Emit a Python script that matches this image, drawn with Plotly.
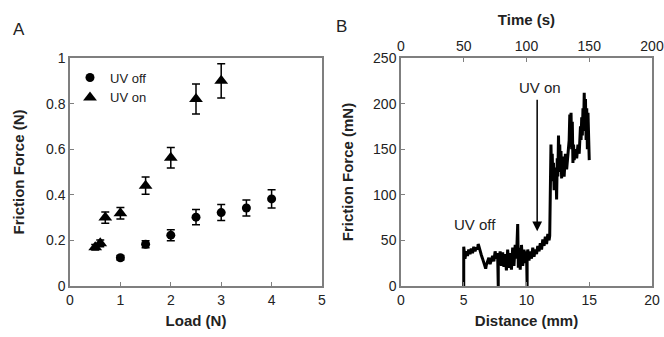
import plotly.graph_objects as go

# Panel A data
load_off = [1.0, 1.5, 2.0, 2.5, 3.0, 3.5, 4.0]
force_off = [0.124, 0.183, 0.223, 0.302, 0.322, 0.342, 0.382]
err_off = [0.010, 0.015, 0.024, 0.033, 0.035, 0.035, 0.040]

load_on = [0.5, 0.6, 0.7, 1.0, 1.5, 2.0, 2.5, 3.0]
force_on = [0.170, 0.187, 0.300, 0.319, 0.440, 0.563, 0.820, 0.900]
err_on = [0.012, 0.015, 0.025, 0.025, 0.038, 0.045, 0.066, 0.075]

# Panel B data
distance = [5.0, 5.0, 5.1, 5.2, 5.3, 5.4, 5.5, 5.6, 5.7, 5.8, 5.9, 6.0, 6.1, 6.15, 6.2,
            6.3, 6.4, 6.5, 6.6, 6.7, 6.75, 6.8, 6.9, 7.0, 7.1, 7.2, 7.3, 7.4, 7.5, 7.6,
            7.7, 7.75, 7.75, 7.8, 7.9, 8.0, 8.1, 8.2, 8.3, 8.4, 8.5, 8.6, 8.7, 8.8, 8.9,
            9.0, 9.1, 9.2, 9.3, 9.35, 9.4, 9.5, 9.6, 9.7, 9.8, 9.9, 10.0, 10.05, 10.05,
            10.1, 10.2, 10.3, 10.4, 10.5, 10.6, 10.7, 10.8, 10.9, 11.0, 11.1, 11.2, 11.3,
            11.4, 11.5, 11.6, 11.7, 11.8, 11.85, 11.9, 11.95, 12.0, 12.05, 12.1, 12.15,
            12.2, 12.25, 12.3, 12.35, 12.4, 12.45, 12.5, 12.55, 12.6, 12.65, 12.7, 12.75,
            12.8, 12.85, 12.9, 12.95, 13.0, 13.1, 13.2, 13.3, 13.4, 13.45, 13.5, 13.55,
            13.6, 13.65, 13.7, 13.75, 13.8, 13.9, 14.0, 14.1, 14.2, 14.3, 14.35, 14.4,
            14.45, 14.5, 14.55, 14.6, 14.65, 14.7, 14.75, 14.8, 14.85, 14.9, 14.95, 15.0]
friction = [0, 43, 30, 38, 33, 40, 35, 41, 36, 43, 38, 42, 40, 46, 44,
            38, 34, 30, 26, 22, 19, 23, 27, 31, 24, 29, 33, 27, 38, 30,
            36, 0, 32, 25, 38, 22, 37, 21, 35, 17, 40, 20, 36, 18, 42,
            22, 45, 30, 68, 20, 42, 18, 45, 22, 40, 25, 38, 0, 30,
            40, 28, 38, 30, 42, 32, 40, 35, 44, 38, 47, 40, 51,
            44, 54, 46, 57, 50, 55, 100, 155, 120, 145, 115, 135,
            105, 130, 110, 128, 95, 140, 120, 165, 130, 155, 125, 148,
            118, 142, 122, 140, 120, 145, 128, 150, 160, 188, 172, 190,
            150, 180, 135, 155, 138, 150, 140, 155, 145, 175, 160, 185,
            165, 195, 170, 212, 175, 205, 160, 195, 150, 190, 145, 138]

# Top axis (time) range endpoints
time_range = [0, 200]

axis_color = "#7f7f7f"
tick_font = dict(family="Liberation Sans, Arial", size=14, color="#222")
title_font = dict(family="Liberation Sans, Arial", size=15, color="#222")

fig = go.Figure()

fig.add_trace(go.Scatter(
    x=load_off, y=force_off, mode="markers", name="UV off",
    marker=dict(symbol="circle", size=9, color="black"),
    error_y=dict(type="data", array=err_off, color="black", thickness=1.5, width=4),
    xaxis="x", yaxis="y"))
fig.add_trace(go.Scatter(
    x=load_on, y=force_on, mode="markers", name="UV on",
    marker=dict(symbol="triangle-up", size=12, color="black"),
    error_y=dict(type="data", array=err_on, color="black", thickness=1.5, width=4),
    xaxis="x", yaxis="y"))

fig.add_trace(go.Scatter(
    x=distance, y=friction, mode="lines", showlegend=False,
    line=dict(color="black", width=3),
    xaxis="x2", yaxis="y2"))

# invisible trace so the top time axis is drawn
fig.add_trace(go.Scatter(
    x=time_range, y=[0, 0], mode="markers", showlegend=False, hoverinfo="skip",
    marker=dict(opacity=0), xaxis="x3", yaxis="y2"))

common = dict(showgrid=False, zeroline=False, showline=True, linecolor=axis_color,
              linewidth=1.5, ticks="inside", ticklen=4, tickcolor=axis_color,
              tickfont=tick_font, automargin=False, ticklabeloverflow="allow")

fig.update_layout(
    width=664, height=337,
    margin=dict(l=70, r=12, t=58, b=51),
    paper_bgcolor="white", plot_bgcolor="white",
    font=dict(family="Liberation Sans, Arial", color="#222"),
    xaxis=dict(domain=[0, 0.433], range=[0, 5], dtick=1, mirror=True, anchor="y",
               title=dict(text="<b>Load (N)</b>", font=title_font, standoff=9), **common),
    yaxis=dict(domain=[0, 1], range=[0, 1], dtick=0.2, mirror=True, anchor="x",
               title=dict(text="<b>Friction Force (N)</b>", font=title_font, standoff=18),
               **common),
    xaxis2=dict(domain=[0.5687, 1], range=[0, 20], dtick=5, mirror=True, anchor="y2",
                title=dict(text="<b>Distance (mm)</b>", font=title_font, standoff=9),
                **common),
    yaxis2=dict(domain=[0, 1], range=[0, 250], dtick=50, mirror=True, anchor="x2",
                title=dict(text="<b>Friction Force (mN)</b>", font=title_font, standoff=16),
                **common),
    xaxis3=dict(overlaying="x2", side="top", anchor="y2", range=time_range, dtick=50,
                title=dict(text="<b>Time (s)</b>", font=title_font, standoff=8),
                **common),
    legend=dict(x=0.0, y=0.98, xanchor="left", yanchor="top", bgcolor="rgba(0,0,0,0)",
                font=dict(family="Liberation Sans, Arial", size=13, color="#222"),
                itemwidth=30, tracegroupgap=0),
    showlegend=True,
)

fig.add_annotation(x=10.85, y=60, ax=10.85, ay=206, xref="x2", yref="y2",
                   axref="x2", ayref="y2", showarrow=True, arrowhead=2, arrowsize=1.3,
                   arrowwidth=1.5, arrowcolor="black", text="")
fig.add_annotation(x=11.1, y=206, xref="x2", yref="y2", text="UV on", showarrow=False,
                   yanchor="bottom", font=dict(family="Liberation Sans, Arial", size=15, color="#222"))
fig.add_annotation(x=5.9, y=56, xref="x2", yref="y2", text="UV off", showarrow=False,
                   yanchor="bottom", font=dict(family="Liberation Sans, Arial", size=15, color="#222"))

fig.add_annotation(x=-0.087, y=1.123, xref="paper", yref="paper", text="A", showarrow=False,
                   xanchor="center", yanchor="middle",
                   font=dict(family="Liberation Sans, Arial", size=17, color="#222"))
fig.add_annotation(x=0.466, y=1.136, xref="paper", yref="paper", text="B", showarrow=False,
                   xanchor="center", yanchor="middle",
                   font=dict(family="Liberation Sans, Arial", size=17, color="#222"))

fig.write_html("out.html")
